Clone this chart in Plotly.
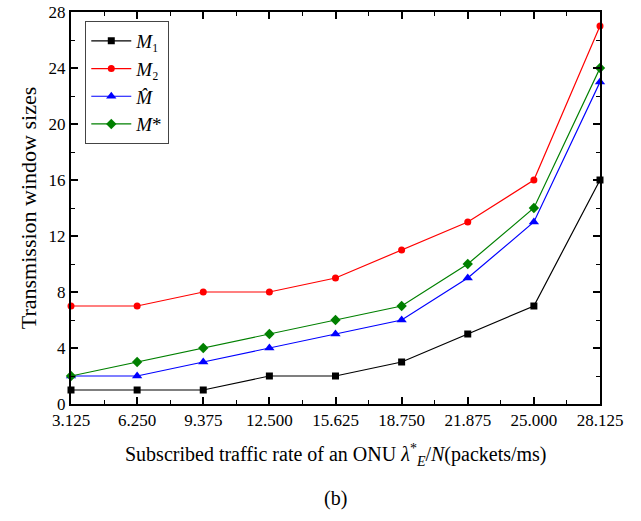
import plotly.graph_objects as go

x_vals = [3.125, 6.25, 9.375, 12.5, 15.625, 18.75, 21.875, 25.0, 28.125]
x_labels = ["3.125", "6.250", "9.375", "12.500", "15.625", "18.750", "21.875", "25.000", "28.125"]
m1 = [1, 1, 1, 2, 2, 3, 5, 7, 16]
m2 = [7, 7, 8, 8, 9, 11, 13, 16, 27]
m_hat = [2, 2, 3, 4, 5, 6, 9, 13, 23]
m_star = [2, 3, 4, 5, 6, 7, 10, 14, 24]
y_ticks = [0, 4, 8, 12, 16, 20, 24, 28]

FONT = "Liberation Serif"

series = [
    ("<i>M</i>₁", m1, "black", "square", 7),
    ("<i>M</i>₂", m2, "red", "circle", 7),
    ("<i>M̂</i>", m_hat, "blue", "triangle-up", 9),
    ("<i>M</i>*", m_star, "green", "diamond", 8),
]

fig = go.Figure()
for name, ys, color, sym, size in series:
    fig.add_trace(go.Scatter(
        x=x_vals, y=ys, name=name, mode="lines+markers",
        line=dict(color=color, width=1.2),
        marker=dict(symbol=sym, size=size, color=color),
        cliponaxis=False,
    ))

axis_common = dict(
    showline=True, linecolor="black", linewidth=2, mirror="ticks",
    ticks="inside", ticklen=7, tickwidth=1.5, tickcolor="black",
    showgrid=False, zeroline=False, automargin=False,
    tickfont=dict(family=FONT, size=17, color="black"),
)

fig.update_xaxes(
    range=[3.125, 28.125], tickvals=x_vals, ticktext=x_labels,
    minor=dict(ticks="inside", ticklen=4, tickcolor="black", tickwidth=1,
               tickvals=[x + 1.5625 for x in x_vals[:-1]]),
    **axis_common,
)
fig.update_yaxes(
    range=[0, 28], tickvals=y_ticks,
    minor=dict(ticks="inside", ticklen=4, tickcolor="black", tickwidth=1, dtick=2),
    title=dict(text="Transmission window sizes", font=dict(family=FONT, size=22, color="black"), standoff=6),
    **axis_common,
)

fig.update_layout(
    width=641, height=521,
    margin=dict(l=71, r=41, t=12, b=117),
    plot_bgcolor="white", paper_bgcolor="white",
    font=dict(family=FONT, color="black"),
    legend=dict(
        x=0.027, y=0.977, xanchor="left", yanchor="top",
        bgcolor="white", bordercolor="#444", borderwidth=1,
        font=dict(family=FONT, size=19, color="black"),
        itemwidth=40, tracegroupgap=0,
    ),
    showlegend=True,
    annotations=[
        dict(text="Subscribed traffic rate of an ONU <i>λ</i><sup>*</sup><sub><i>E</i></sub>/<i>N</i>(packets/ms)",
             x=0.5, y=-0.13, xref="paper", yref="paper", xanchor="center", yanchor="middle",
             showarrow=False, font=dict(family=FONT, size=20, color="black")),
        dict(text="(b)", x=0.5, y=-0.24, xref="paper", yref="paper", xanchor="center", yanchor="middle",
             showarrow=False, font=dict(family=FONT, size=20, color="black")),
    ],
)

fig.write_html("out.html", config={"displayModeBar": False},
               post_script=["document.body.style.margin='0';document.body.style.padding='0';"])
